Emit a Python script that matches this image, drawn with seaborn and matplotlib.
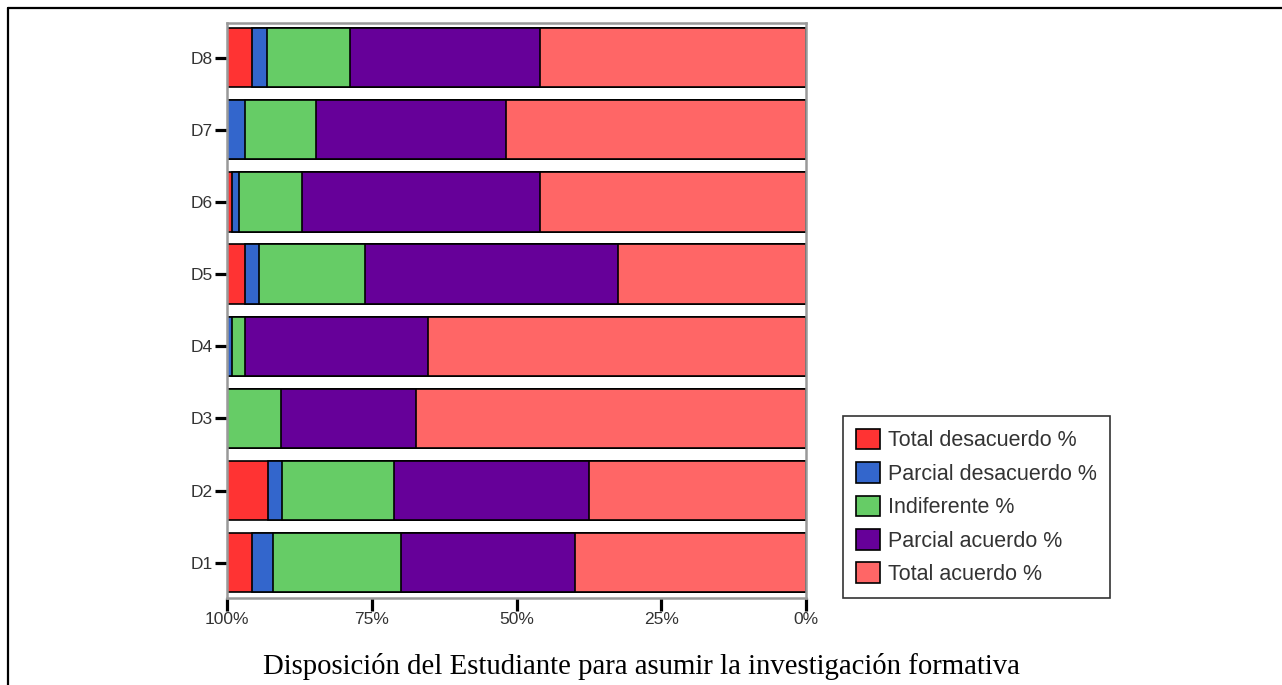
import numpy as np
import pandas as pd
import seaborn as sns
import matplotlib.pyplot as plt
from matplotlib.patches import Patch
from matplotlib.lines import Line2D

# Items (top to bottom as in the chart)
items = ['D8', 'D7', 'D6', 'D5', 'D4', 'D3', 'D2', 'D1']

# Percent per answer, same order as items
total_desacuerdo = [4.4, 0.0, 0.9, 3.1, 0.0, 0.0, 7.0, 4.4]
parcial_desacuerdo = [2.5, 3.1, 1.1, 2.5, 0.9, 0.0, 2.5, 3.6]
indiferente = [14.4, 12.3, 10.9, 18.2, 2.2, 9.4, 19.3, 22.1]
parcial_acuerdo = [32.8, 32.8, 41.2, 43.7, 31.7, 23.2, 33.8, 30.0]
total_acuerdo = [45.9, 51.8, 45.9, 32.5, 65.2, 67.4, 37.4, 39.9]

labels = ['Total desacuerdo %', 'Parcial desacuerdo %', 'Indiferente %',
          'Parcial acuerdo %', 'Total acuerdo %']
colors = ['#FF3333', '#3366CC', '#66CC66', '#660099', '#FF6666']
xticks = [100, 75, 50, 25, 0]
xticklabels = ['100%', '75%', '50%', '25%', '0%']
title = 'Disposición del Estudiante para asumir la investigación formativa'

df = pd.DataFrame({
    'item': items,
    labels[0]: total_desacuerdo,
    labels[1]: parcial_desacuerdo,
    labels[2]: indiferente,
    labels[3]: parcial_acuerdo,
    labels[4]: total_acuerdo,
})

# x axis runs 100 -> 0, so stack from the right: Total acuerdo sits next to 0
# each layer = sum of itself and everything to its right
cum = df[labels[::-1]].cumsum(axis=1)[labels[::-1]]

sns.set_style('white')
plt.rcParams['font.family'] = ['Liberation Sans', 'DejaVu Sans']

fig = plt.figure(figsize=(12.82, 6.85), dpi=100)
ax = fig.add_axes([227 / 1282, 1 - 598 / 685, 579 / 1282, 575 / 685])

# longest layer first, shorter ones painted over it
for lab, col in zip(labels, colors):
    sns.barplot(x=cum[lab], y=df['item'], order=items, orient='h',
                color=col, edgecolor='black', linewidth=1.2, width=0.82,
                saturation=1, ax=ax)

ax.set_xlim(100, 0)
ax.set_ylim(7.49, -0.48)
ax.set_xticks(xticks)
ax.set_xticklabels(xticklabels)
ax.set_xlabel('')
ax.set_ylabel('')
ax.tick_params(axis='both', bottom=True, left=True, direction='out',
               length=9, width=2.3, color='black',
               labelsize=12.5, labelcolor='#333333', pad=1)
for s in ax.spines.values():
    s.set_color('#999999')
    s.set_linewidth(1.8)

handles = [Patch(facecolor=c, edgecolor='black', linewidth=1.2) for c in colors]
leg = ax.legend(handles, labels, loc='lower left',
                bbox_to_anchor=(843 / 1282, 1 - 598 / 685),
                bbox_transform=fig.transFigure, fontsize=15.5,
                frameon=True, fancybox=False, edgecolor='black',
                handlelength=1.1, handleheight=1.1, handletextpad=0.4,
                labelspacing=0.5, borderpad=0.6, borderaxespad=0)
leg.get_frame().set_linewidth(1.2)
for t in leg.get_texts():
    t.set_color('#333333')

fig.text(0.5, 1 - 666 / 685, title, ha='center', va='center',
         family='Liberation Serif', fontsize=20.7, color='black')

# page frame around the figure
fig.add_artist(Line2D([8 / 1282, 8 / 1282], [0, 1 - 8 / 685],
                      transform=fig.transFigure, color='black', lw=1.6))
fig.add_artist(Line2D([8 / 1282, 1], [1 - 8 / 685, 1 - 8 / 685],
                      transform=fig.transFigure, color='black', lw=1.6))

fig.savefig('out.png', dpi=100)
